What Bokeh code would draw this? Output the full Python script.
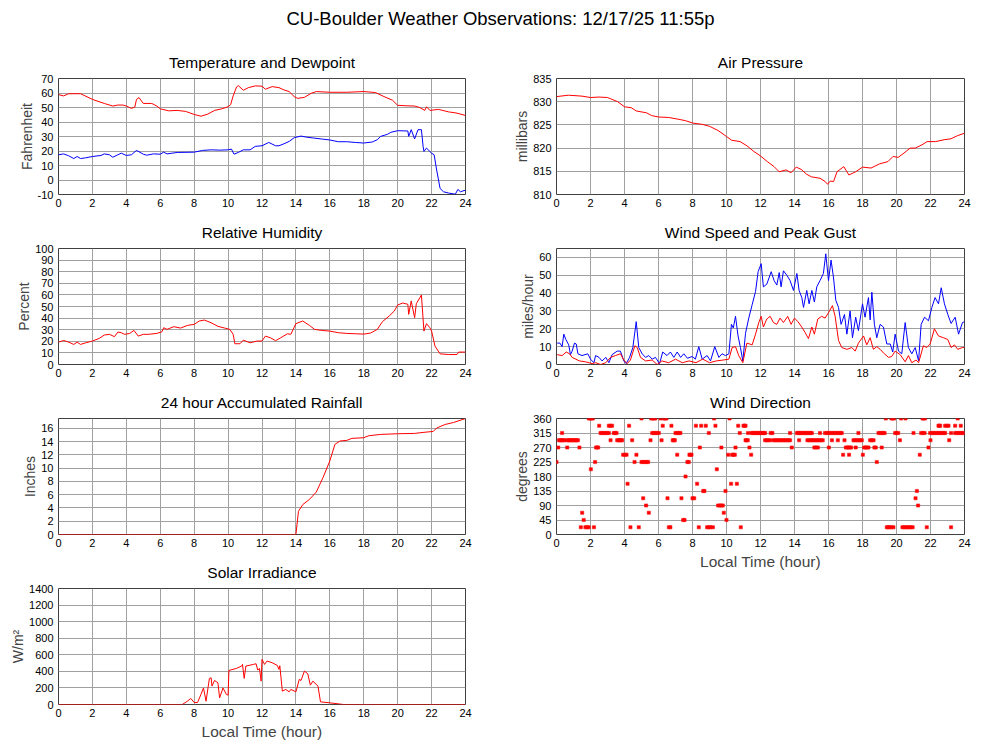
from bokeh.plotting import figure
from bokeh.layouts import column, row
from bokeh.models import Range1d, FixedTicker, ColumnDataSource
from bokeh.embed import file_html
from bokeh.resources import INLINE
from bokeh.core.properties import value

FONT = "Liberation Sans"
MAIN_TITLE = "CU-Boulder Weather Observations: 12/17/25 11:55p"
X_TICKS = list(range(0, 25, 2))
X_LABEL = "Local Time (hour)"

# ---- Temperature and dewpoint (F) ----
temp_hour = [0, 0.3, 0.6, 1.3, 2.0, 2.7, 3.2, 3.5, 3.8, 4.0, 4.3, 4.5, 4.6, 4.75, 5.0, 5.5, 5.8, 6.0, 6.5, 7.0,
             7.5, 8.0, 8.4, 8.8, 9.2, 9.6, 10.0, 10.15, 10.3, 10.5, 10.6, 10.9, 11.2, 11.6, 12.0, 12.2, 12.6, 13.0,
             13.3, 13.6, 13.9, 14.1, 14.5, 14.9, 15.2, 16.0, 17.0, 18.0, 18.7, 19.2, 19.7, 20.0, 20.5, 21.0, 21.3,
             21.6, 21.7, 21.9, 22.4, 23.0, 23.5, 24.0]
temp_f = [58.9, 58.0, 59.5, 59.5, 55.6, 52.8, 51.0, 51.7, 51.7, 51.0, 49.4, 50.3, 55.6, 56.8, 52.8, 52.8, 51.0, 49.1,
          47.7, 48.0, 47.3, 45.2, 44.0, 45.4, 48.0, 49.0, 50.5, 52.0, 58.0, 64.2, 65.1, 61.9, 63.7, 64.9, 64.7, 62.6,
          64.4, 63.7, 62.1, 61.0, 57.5, 56.3, 57.0, 59.8, 61.0, 60.5, 60.5, 61.0, 60.3, 57.5, 55.0, 51.5, 51.2, 51.0,
          50.0, 48.0, 50.5, 48.0, 48.7, 47.0, 46.1, 44.5]
dew_hour = [0, 0.3, 0.6, 0.9, 1.1, 1.3, 1.6, 2.0, 2.5, 2.7, 3.0, 3.2, 3.5, 3.7, 4.0, 4.3, 4.6, 5.0, 5.2, 5.6, 6.0,
            6.2, 6.4, 7.0, 8.0, 8.5, 9.0, 9.5, 10.0, 10.2, 10.35, 10.6, 10.9, 11.3, 11.6, 12.0, 12.4, 12.8, 13.0,
            13.3, 13.6, 13.9, 14.3, 14.6, 15.0, 15.5, 16.0, 16.5, 17.0, 17.5, 18.0, 18.5, 18.8, 19.0, 19.4, 19.6,
            20.0, 20.6, 20.65, 20.8, 21.0, 21.2, 21.4, 21.5, 21.55, 21.7, 22.0, 22.15, 22.3, 22.5, 22.7, 23.0, 23.4,
            23.55, 23.7, 24.0]
dew_f = [17.4, 18.0, 16.7, 14.8, 16.2, 14.8, 15.3, 16.2, 16.9, 18.0, 17.4, 15.7, 17.4, 18.5, 16.9, 17.4, 20.4, 17.8,
         17.1, 18.0, 17.8, 19.2, 18.0, 19.0, 19.2, 20.4, 20.8, 20.6, 20.8, 21.3, 17.8, 19.0, 20.8, 20.8, 23.2, 23.6,
         25.9, 23.6, 23.6, 25.0, 26.6, 29.2, 30.3, 29.6, 29.0, 28.3, 27.6, 26.4, 26.4, 25.9, 25.5, 26.2, 27.8, 30.1,
         31.5, 32.9, 34.0, 33.8, 30.1, 34.7, 28.3, 34.7, 34.7, 23.2, 19.7, 22.0, 18.5, 17.4, 6.9, -5.8, -8.1, -9.0,
         -9.8, -6.5, -8.1, -7.0]

# ---- Air pressure (mb) ----
pres_hour = [0, 0.7, 1.5, 2.0, 2.5, 3.0, 3.2, 3.6, 4.0, 4.4, 4.7, 5.3, 5.6, 6.0, 6.6, 7.2, 7.6, 8.0, 8.6, 9.0, 9.5,
             10.0, 10.3, 10.8, 11.2, 11.6, 12.0, 12.4, 12.8, 13.1, 13.5, 13.8, 14.1, 14.4, 14.7, 15.0, 15.5, 15.8,
             15.95, 16.1, 16.3, 16.5, 16.9, 17.2, 17.6, 18.0, 18.5, 19.0, 19.5, 19.8, 20.1, 20.5, 20.8, 21.1, 21.5,
             21.8, 22.3, 22.8, 23.2, 23.6, 24.0]
pres_mb = [831.1, 831.4, 831.2, 830.9, 831.0, 830.9, 830.6, 830.0, 828.9, 828.7, 828.0, 827.6, 827.0, 826.7, 826.6,
           826.2, 825.9, 825.4, 825.1, 824.7, 823.8, 822.5, 821.7, 821.4, 820.5, 819.3, 818.3, 817.1, 816.0, 814.9,
           815.3, 814.7, 815.9, 815.4, 814.4, 813.8, 813.5, 812.8, 812.2, 812.9, 812.8, 814.9, 816.0, 814.2, 814.9,
           815.9, 815.7, 816.6, 817.1, 818.2, 818.0, 819.1, 820.0, 820.0, 820.7, 821.4, 821.4, 821.8, 822.0, 822.7,
           823.2]

# ---- Relative humidity (%) ----
rh_hour = [0, 0.3, 0.6, 0.9, 1.1, 1.3, 1.6, 2.0, 2.4, 2.7, 3.0, 3.3, 3.5, 3.7, 3.9, 4.2, 4.45, 4.7, 5.0, 5.3, 5.8,
           6.1, 6.2, 6.4, 6.8, 7.2, 7.6, 8.0, 8.3, 8.6, 9.0, 9.4, 9.8, 10.1, 10.3, 10.4, 10.7, 10.9, 11.3, 11.7,
           12.0, 12.2, 12.5, 12.8, 13.1, 13.5, 13.7, 14.0, 14.4, 14.8, 15.1, 15.5, 16.0, 16.5, 17.0, 17.5, 18.0,
           18.4, 18.8, 19.1, 19.5, 19.8, 20.0, 20.3, 20.6, 20.65, 20.8, 21.0, 21.1, 21.4, 21.55, 21.7, 21.9, 22.0,
           22.2, 22.5, 23.0, 23.5, 23.6, 24.0]
rh_pct = [19.3, 20.7, 19.3, 17.3, 19.3, 17.3, 18.7, 20.2, 22.5, 25.4, 26.0, 24.0, 28.0, 27.4, 26.0, 26.8, 29.4, 24.5,
          26.0, 26.0, 26.8, 28.2, 31.7, 30.3, 32.6, 31.4, 33.7, 34.6, 37.5, 38.3, 36.0, 32.9, 31.4, 30.3, 26.0, 17.9,
          17.9, 21.0, 18.7, 20.2, 20.2, 24.5, 23.0, 20.5, 23.0, 26.5, 26.0, 35.2, 37.5, 33.7, 30.3, 29.4, 28.8, 27.4,
          26.8, 26.5, 26.2, 27.1, 30.3, 36.9, 41.8, 46.1, 51.3, 53.0, 51.9, 43.2, 54.8, 40.3, 52.4, 59.9, 28.8, 35.2,
          31.7, 28.8, 15.9, 9.2, 8.6, 8.6, 10.7, 10.7]

# ---- Wind speed and peak gust (mph) ----
gust_hour = [0.04, 0.2, 0.33, 0.43, 0.55, 0.72, 0.82, 0.92, 1.06, 1.16, 1.26, 1.5, 1.84, 2.0, 2.2, 2.3, 2.5, 2.68,
             2.9, 3.08, 3.27, 3.57, 3.76, 3.96, 4.1, 4.3, 4.49, 4.69, 4.84, 5.04, 5.24, 5.43, 5.63, 5.82, 6.06, 6.25,
             6.5, 6.7, 6.9, 7.1, 7.3, 7.49, 7.7, 7.98, 8.17, 8.37, 8.57, 8.86, 9.06, 9.31, 9.55, 9.74, 9.94, 10.14,
             10.29, 10.4, 10.53, 10.68, 10.82, 10.96, 11.12, 11.31, 11.51, 11.71, 11.86, 12.04, 12.17, 12.37, 12.63,
             12.8, 12.96, 13.1, 13.21, 13.35, 13.55, 13.74, 13.94, 14.14, 14.27, 14.43, 14.53, 14.72, 14.86, 15.02,
             15.17, 15.31, 15.5, 15.7, 15.84, 16.0, 16.15, 16.29, 16.43, 16.59, 16.74, 16.94, 17.08, 17.27, 17.41,
             17.6, 17.76, 18.0, 18.15, 18.35, 18.45, 18.55, 18.7, 18.84, 19.04, 19.23, 19.43, 19.63, 19.78, 19.92,
             20.12, 20.31, 20.51, 20.7, 20.9, 21.1, 21.3, 21.45, 21.65, 21.88, 22.08, 22.27, 22.47, 22.63, 22.82,
             23.02, 23.21, 23.45, 23.65, 23.88, 24.0]
gust_mph = [12, 12, 10, 17, 14, 11, 5.5, 7.5, 12, 11.5, 6, 5, 6, 3, 1, 5, 4, 2, 4, 1, 5.5, 7.5, 7.5, 2, 0.5, 4, 9.5,
            24, 9.5, 6, 4, 5, 3, 4, 0.5, 7, 5, 7, 4, 7, 4, 6, 3.5, 4.5, 3, 10, 3, 5, 2, 10, 4, 6, 5, 6, 22.5, 20.5,
            27, 16, 9.5, 2, 17.5, 26, 33.5, 41, 52, 56.5, 43.5, 45, 52, 47, 44.5, 51.5, 43.5, 52.5, 50, 47, 41.5, 51,
            41.5, 37.5, 32, 41.5, 34, 41.5, 35, 43.5, 47, 51, 62, 47, 58.5, 49, 36, 32, 22.5, 28, 17, 30, 15, 26.5,
            19, 34, 26.5, 37.5, 25, 40.5, 22.5, 15, 22.5, 21, 11.5, 11.5, 7, 17, 7.5, 6, 23.5, 9.5, 6, 9.5, 2, 22.5,
            26.5, 24.5, 32, 37.5, 34, 43, 34, 28, 23, 26.5, 17, 23.5, 24]
speed_hour = [0.04, 0.33, 0.57, 0.77, 0.92, 1.35, 1.7, 2.1, 2.3, 2.6, 2.9, 3.18, 3.47, 3.76, 3.96, 4.16, 4.35, 4.61,
              4.75, 4.94, 5.24, 5.63, 5.92, 6.2, 6.6, 7.0, 7.4, 7.8, 8.2, 8.6, 9.0, 9.4, 9.8, 10.14, 10.33, 10.53,
              10.72, 10.96, 11.2, 11.51, 11.71, 11.9, 12.04, 12.17, 12.37, 12.57, 12.76, 12.96, 13.15, 13.35, 13.6,
              13.8, 14.0, 14.2, 14.39, 14.62, 14.82, 15.02, 15.17, 15.37, 15.6, 15.8, 16.0, 16.23, 16.39, 16.59,
              16.78, 17.08, 17.37, 17.57, 17.76, 18.06, 18.25, 18.45, 18.64, 18.84, 19.04, 19.23, 19.53, 19.72, 19.92,
              20.22, 20.51, 20.7, 20.9, 21.15, 21.3, 21.58, 21.78, 21.98, 22.23, 22.47, 22.76, 23.02, 23.21, 23.41,
              23.6, 23.88, 24.0]
speed_mph = [5.5, 5, 7, 6, 4, 2, 1.5, 0.5, 1, 0, 1, 4, 5, 6, 2.5, 0.5, 2.5, 10.5, 9.5, 4, 2, 2.5, 0, 2, 1, 3, 1, 2,
             1, 3, 1, 2, 2.5, 3, 9.5, 10, 5, 1, 12, 11, 17, 23.5, 27, 21, 25.5, 27, 23.5, 22.5, 26, 23.5, 27, 22.5, 26,
             24, 21.5, 18, 14.5, 21, 17, 25.5, 27, 26, 29, 33, 27, 13.5, 9.5, 8.5, 9.5, 7.5, 12, 16, 11, 15, 8.5, 10,
             8.5, 6.5, 4, 4.5, 7.5, 5.5, 1.5, 5, 1, 2.5, 1, 10.5, 9.5, 11.5, 20, 16, 15, 14, 9.5, 11, 8.5, 9.5, 9.5]

# ---- 24 hour accumulated rainfall (in) ----
rain_hour = [0, 14.0, 14.15, 14.4, 14.8, 15.2, 15.6, 16.0, 16.3, 16.6, 17.0, 17.3, 18.0, 18.3, 19.0, 20.0, 21.0,
             21.5, 22.1, 22.3, 22.8, 23.3, 24.0]
rain_in = [0, 0, 3.5, 4.5, 5.3, 6.4, 8.6, 11.1, 13.6, 14.1, 14.2, 14.5, 14.6, 14.9, 15.1, 15.2, 15.25, 15.4, 15.55,
           16.06, 16.6, 16.9, 17.5]

# ---- Wind direction (degrees): observation hours for each compass direction ----
wd_360 = [1.9, 1.98, 2.06, 2.14, 5.0, 5.57, 5.65, 5.73, 5.82, 6.12, 6.31, 6.39, 6.47, 9.27, 10.18, 19.37, 19.7,
          19.78, 19.86, 20.27, 20.53, 21.53, 21.6, 21.68, 23.6]
wd_337 = [2.51, 3.08, 3.18, 3.27, 4.27, 6.25, 6.76, 8.2, 8.51, 8.78, 9.35, 10.69, 11.0, 11.06, 11.12, 22.47, 22.52,
          22.57, 22.86, 22.96, 23.06, 23.45, 23.78]
wd_315 = [0.33, 2.59, 2.68, 2.78, 2.88, 2.98, 3.08, 3.37, 3.45, 3.53, 5.63, 5.73, 5.82, 5.92, 6.02, 7.0, 7.1, 7.2,
          7.29, 8.96, 10.78, 11.27, 11.47, 11.55, 11.63, 11.71, 11.8, 11.88, 11.96, 12.04, 12.12, 12.2, 12.27, 12.6,
          12.7, 13.74, 14.14, 14.22, 14.3, 14.38, 14.46, 14.54, 14.62, 14.7, 14.78, 14.86, 14.94, 15.02, 15.5, 15.8,
          15.9, 16.0, 16.1, 16.2, 16.3, 16.4, 16.5, 16.6, 16.7, 16.78, 17.76, 18.94, 19.04, 19.14, 19.2, 19.3, 19.92,
          20.0, 20.1, 21.0, 21.45, 21.55, 21.65, 21.98, 22.08, 22.18, 22.28, 22.38, 22.48, 22.58, 22.68, 22.78,
          22.86, 23.21, 23.45, 23.55, 23.65, 23.75, 23.85, 23.94]
wd_292 = [0.14, 0.22, 0.3, 0.38, 0.46, 0.62, 0.7, 0.78, 0.86, 0.94, 1.02, 1.1, 1.18, 1.26, 3.18, 3.57, 3.65, 3.72,
          3.8, 3.86, 4.45, 5.53, 6.18, 6.84, 6.9, 6.96, 11.12, 11.18, 11.25, 12.27, 12.37, 12.45, 12.57, 12.76,
          12.86, 12.96, 13.06, 13.16, 13.26, 13.36, 13.46, 13.56, 13.66, 13.74, 14.27, 14.76, 14.86, 14.96, 15.06,
          15.16, 15.26, 15.36, 15.46, 15.56, 15.66, 16.2, 16.55, 16.94, 17.47, 17.57, 17.67, 17.77, 17.86, 17.96,
          18.45, 18.55, 18.65, 20.2, 22.0, 23.1]
wd_270 = [0.1, 0.63, 1.35, 2.33, 2.39, 2.45, 8.43, 9.7, 10.53, 11.35, 13.84, 15.17, 15.27, 15.37, 16.02, 17.02,
          17.1, 17.18, 17.25, 17.33, 17.6, 18.1, 18.18, 18.26, 18.35, 18.7, 18.78, 19.13, 21.88]
wd_247 = [3.92, 4.02, 4.12, 4.7, 7.1, 7.82, 7.88, 7.94, 10.1, 10.33, 10.41, 10.49, 11.45, 16.86, 17.21, 18.02, 21.37]
wd_225 = [0.0, 2.27, 4.59, 5.0, 5.1, 5.2, 5.3, 5.39, 7.7, 7.78, 18.84]
wd_202 = [2.02, 9.43]
wd_180 = [7.59]
wd_157 = [4.18, 8.27, 10.27, 10.61]
wd_135 = [8.63, 8.7, 9.94, 21.2]
wd_112 = [5.1, 6.53, 7.35, 8.0, 8.1, 21.12]
wd_90 = [5.27, 9.51, 9.6, 9.7, 9.78, 21.27]
wd_67 = [1.51, 5.43, 9.84]
wd_45 = [1.6, 7.45, 7.53, 10.0]
wd_22 = [1.43, 1.7, 1.8, 1.9, 2.2, 4.35, 4.84, 6.61, 6.7, 8.37, 8.86, 8.96, 9.06, 9.2, 10.84, 19.43, 19.5, 19.6,
         19.7, 19.82, 20.35, 20.45, 20.55, 20.65, 20.75, 20.85, 20.95, 21.78, 23.21]
wd_groups = [(360, wd_360), (337.5, wd_337), (315, wd_315), (292.5, wd_292), (270, wd_270), (247.5, wd_247),
             (225, wd_225), (202.5, wd_202), (180, wd_180), (157.5, wd_157), (135, wd_135), (112.5, wd_112),
             (90, wd_90), (67.5, wd_67), (45, wd_45), (22.5, wd_22)]

# ---- Solar irradiance (W/m^2) ----
solar_hour = [0, 7.3, 7.6, 7.8, 8.0, 8.2, 8.4, 8.55, 8.7, 8.9, 9.0, 9.05, 9.2, 9.4, 9.5, 9.7, 9.9, 10.0, 10.05,
              10.5, 10.8, 10.85, 10.95, 11.05, 11.5, 11.65, 11.75, 11.85, 11.95, 12.0, 12.15, 12.3, 12.6, 12.9, 13.0,
              13.05, 13.2, 13.4, 13.6, 13.7, 14.0, 14.2, 14.3, 14.5, 14.7, 14.85, 15.0, 15.3, 15.45, 16.0, 16.5,
              16.8, 24.0]
solar_wm2 = [0, 0, 40, 73, 24, 24, 121, 200, 40, 315, 323, 222, 290, 262, 80, 200, 121, 113, 411, 436, 464, 484,
             315, 464, 484, 492, 415, 436, 282, 545, 484, 525, 504, 472, 424, 468, 161, 182, 153, 182, 153, 303, 290,
             403, 371, 234, 282, 222, 32, 20, 8, 0, 0]

GRID = "#a0a0a0"
FRAME = "#404040"
RED = "#ff0000"
BLUE = "#0000ff"
TOP = 34
FRAME_H = 116
ROW_BOTTOM = 20


def panel(title, ylabel, ylo, yhi, yticks, left, fw, right, bottom, xlabel=None):
    p = figure(title=title, frame_width=fw, frame_height=FRAME_H,
               min_border_left=left, min_border_right=right, min_border_top=TOP, min_border_bottom=bottom,
               x_range=Range1d(0, 24), y_range=Range1d(ylo, yhi),
               toolbar_location=None, tools="", output_backend="svg")
    p.title.align = "center"
    p.title.text_font = FONT
    p.title.text_font_size = "15.5px"
    p.title.text_font_style = "normal"
    p.title.text_color = "#000000"
    p.title.standoff = 15
    p.outline_line_color = FRAME
    p.outline_line_width = 1
    p.xaxis.ticker = FixedTicker(ticks=X_TICKS)
    p.yaxis.ticker = FixedTicker(ticks=yticks)
    p.yaxis.major_label_overrides = {t: str(t) for t in yticks}
    for ax in (p.xaxis[0], p.yaxis[0]):
        ax.axis_line_color = None
        ax.major_tick_line_color = None
        ax.minor_tick_line_color = None
        ax.major_tick_out = 0
        ax.major_tick_in = 0
        ax.major_label_text_font = FONT
        ax.major_label_text_font_size = "11px"
        ax.major_label_text_color = "#000000"
    p.yaxis.major_label_standoff = 5
    p.xaxis.major_label_standoff = 4
    p.yaxis.axis_label = ylabel
    p.yaxis.axis_label_text_font = FONT
    p.yaxis.axis_label_text_font_size = "14px"
    p.yaxis.axis_label_text_font_style = "normal"
    p.yaxis.axis_label_standoff = 0
    if xlabel:
        p.xaxis.axis_label = xlabel
        p.xaxis.axis_label_text_font = FONT
        p.xaxis.axis_label_text_font_size = "15.5px"
        p.xaxis.axis_label_text_font_style = "normal"
        p.xaxis.axis_label_standoff = 3
    p.xgrid.grid_line_color = GRID
    p.ygrid.grid_line_color = GRID
    p.background_fill_color = "#ffffff"
    p.border_fill_color = "#ffffff"
    return p


LEFT_ARGS = dict(left=58, fw=407, right=35)
RIGHT_ARGS = dict(left=56, fw=408, right=20)

p_temp = panel("Temperature and Dewpoint", "Fahrenheit", -10, 70, list(range(-10, 71, 10)), bottom=ROW_BOTTOM,
               **LEFT_ARGS)
p_temp.line(temp_hour, temp_f, line_color=RED, line_width=1)
p_temp.line(dew_hour, dew_f, line_color=BLUE, line_width=1)

p_rh = panel("Relative Humidity", "Percent", 0, 100, list(range(0, 101, 10)), bottom=ROW_BOTTOM, **LEFT_ARGS)
p_rh.line(rh_hour, rh_pct, line_color=RED, line_width=1)

p_rain = panel("24 hour Accumulated Rainfall", "Inches", 0, 17.5, list(range(0, 17, 2)), bottom=ROW_BOTTOM,
               **LEFT_ARGS)
p_rain.line(rain_hour, rain_in, line_color=RED, line_width=1)

p_solar = panel("Solar Irradiance", "W/m²", 0, 1400, list(range(0, 1401, 200)), bottom=38, xlabel=X_LABEL,
                **LEFT_ARGS)
p_solar.line(solar_hour, solar_wm2, line_color=RED, line_width=1)

p_pres = panel("Air Pressure", "millibars", 810, 835, list(range(810, 836, 5)), bottom=ROW_BOTTOM, **RIGHT_ARGS)
p_pres.line(pres_hour, pres_mb, line_color=RED, line_width=1)

p_wind = panel("Wind Speed and Peak Gust", "miles/hour", 0, 65, list(range(0, 61, 10)), bottom=ROW_BOTTOM,
               **RIGHT_ARGS)
p_wind.line(gust_hour, gust_mph, line_color=BLUE, line_width=1)
p_wind.line(speed_hour, speed_mph, line_color=RED, line_width=1)

wd_x, wd_y = [], []
for deg, hours in wd_groups:
    wd_x.extend(hours)
    wd_y.extend([deg] * len(hours))
wd_src = ColumnDataSource(data=dict(hour=wd_x, deg=wd_y))
p_dir = panel("Wind Direction", "degrees", 0, 360, list(range(0, 361, 45)), bottom=40, xlabel=X_LABEL,
              **RIGHT_ARGS)
p_dir.scatter("hour", "deg", source=wd_src, marker="square", size=3.2, fill_color=RED, line_color=RED,
              line_width=0.5)

# ---- main title strip ----
TITLE_W, TITLE_H = 1000, 44
p_title = figure(width=TITLE_W, height=TITLE_H, x_range=Range1d(0, TITLE_W), y_range=Range1d(0, TITLE_H),
                 toolbar_location=None, tools="", output_backend="svg", min_border=0)
p_title.axis.visible = False
p_title.grid.visible = False
p_title.outline_line_color = None
p_title.text(x=[TITLE_W / 2], y=[TITLE_H - 18], text=[MAIN_TITLE], text_font=value(FONT), text_font_size="18.5px",
             text_align="center", text_baseline="middle", text_color="#000000")

layout = column(p_title,
                row(column(p_temp, p_rh, p_rain, p_solar), column(p_pres, p_wind, p_dir)))

open("out.html", "w").write(file_html(layout, INLINE))
